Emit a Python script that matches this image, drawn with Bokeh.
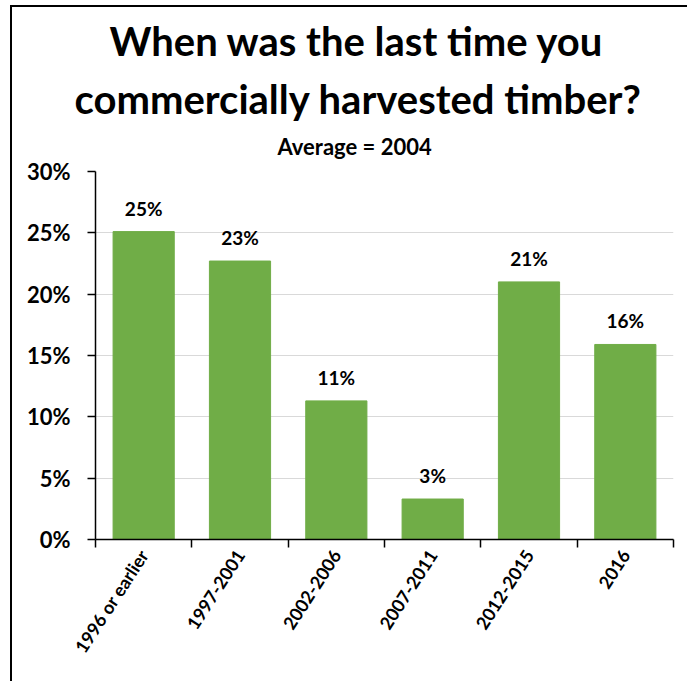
import math
import numpy as np
from bokeh.plotting import figure
from bokeh.models import (ColumnDataSource, LabelSet, Title, FixedTicker,
                          PrintfTickFormatter, Range1d)
from bokeh.core.properties import value
from bokeh.embed import file_html
from bokeh.resources import INLINE

# Survey results: share of respondents by year of last commercial timber harvest
categories = ["1996 or earlier", "1997-2001", "2002-2006", "2007-2011", "2012-2015", "2016"]
shares = [25.1, 22.7, 11.3, 3.3, 21.0, 15.9]
y_ticks = [0, 5, 10, 15, 20, 25, 30]

title_lines = ["When was the last time you", "commercially harvested timber?"]
subtitle = "Average = 2004"

FONT = "Lato"
GREEN = "#70AD47"

xpos = np.arange(len(categories)) + 0.5
source = ColumnDataSource(dict(
    x=xpos,
    share=shares,
    label=[f"{round(v)}%" for v in shares],
))

p = figure(width=677, height=676, output_backend="svg", toolbar_location=None,
           x_range=Range1d(0, len(categories)), y_range=Range1d(0, 30),
           min_border_left=83, min_border_right=16,
           min_border_top=164, min_border_bottom=144)
p.outline_line_color = None
p.background_fill_color = "white"
p.border_fill_color = "white"
# chart border (top and left edges of the chart area)
p.styles = {"border-left": "2px solid black", "border-top": "2px solid black",
            "margin-left": "10px", "margin-top": "5px"}

p.vbar(x="x", top="share", width=0.635, color=GREEN, source=source)

# value labels above the bars
p.add_layout(LabelSet(x="x", y="share", text="label", source=source,
                      text_align="center", text_baseline="alphabetic", y_offset=16,
                      text_font=value(FONT), text_font_style="bold",
                      text_font_size="19px", text_color="black"))

# y axis
p.yaxis.ticker = FixedTicker(ticks=y_ticks)
p.yaxis.formatter = PrintfTickFormatter(format="%d%%")
p.yaxis.major_label_text_font = FONT
p.yaxis.major_label_text_font_style = "bold"
p.yaxis.major_label_text_font_size = "22px"
p.yaxis.major_label_text_color = "black"
p.yaxis.major_tick_out = 8
p.yaxis.major_tick_in = 0
p.yaxis.major_label_standoff = 17
p.yaxis.minor_tick_line_color = None
p.yaxis.axis_line_width = 1.5
p.yaxis.major_tick_line_width = 1.5
p.yaxis.axis_line_color = "black"

# x axis: labels at bar centres, tick marks at category boundaries
p.xaxis.ticker = FixedTicker(ticks=list(xpos),
                             minor_ticks=list(range(len(categories) + 1)))
p.xaxis.major_label_overrides = {float(x): c for x, c in zip(xpos, categories)}
p.xaxis.major_label_orientation = math.radians(57)
p.xaxis.major_label_text_font = FONT
p.xaxis.major_label_text_font_style = "bold"
p.xaxis.major_label_text_font_size = "18px"
p.xaxis.major_label_text_color = "black"
p.xaxis.major_tick_line_color = None
p.xaxis.major_tick_out = 0
p.xaxis.major_tick_in = 0
p.xaxis.major_label_standoff = 4
p.xaxis.minor_tick_out = 8
p.xaxis.minor_tick_in = 0
p.xaxis.minor_tick_line_color = "black"
p.xaxis.minor_tick_line_width = 1.5
p.xaxis.axis_line_width = 1.5
p.xaxis.axis_line_color = "black"

p.xgrid.grid_line_color = None
p.ygrid.ticker = FixedTicker(ticks=y_ticks)
p.ygrid.grid_line_color = "#D9D9D9"
p.ygrid.grid_line_width = 1

# title block, stacked upward from the plot area (left-aligned with offsets
# so the block is centred a little left of the plot area)
for text, size, standoff, offset, valign in [
        (subtitle, "22px", 19, 182, "top"),
        (title_lines[1], "40px", 1, -21, "bottom"),
        (title_lines[0], "40px", 15, 14, "bottom")]:
    p.add_layout(Title(text=text, align="left", offset=offset, standoff=standoff,
                       vertical_align=valign, text_font=FONT,
                       text_font_style="bold", text_font_size=size,
                       text_color="black"), "above")

open("out.html", "w").write(file_html(p, INLINE))
